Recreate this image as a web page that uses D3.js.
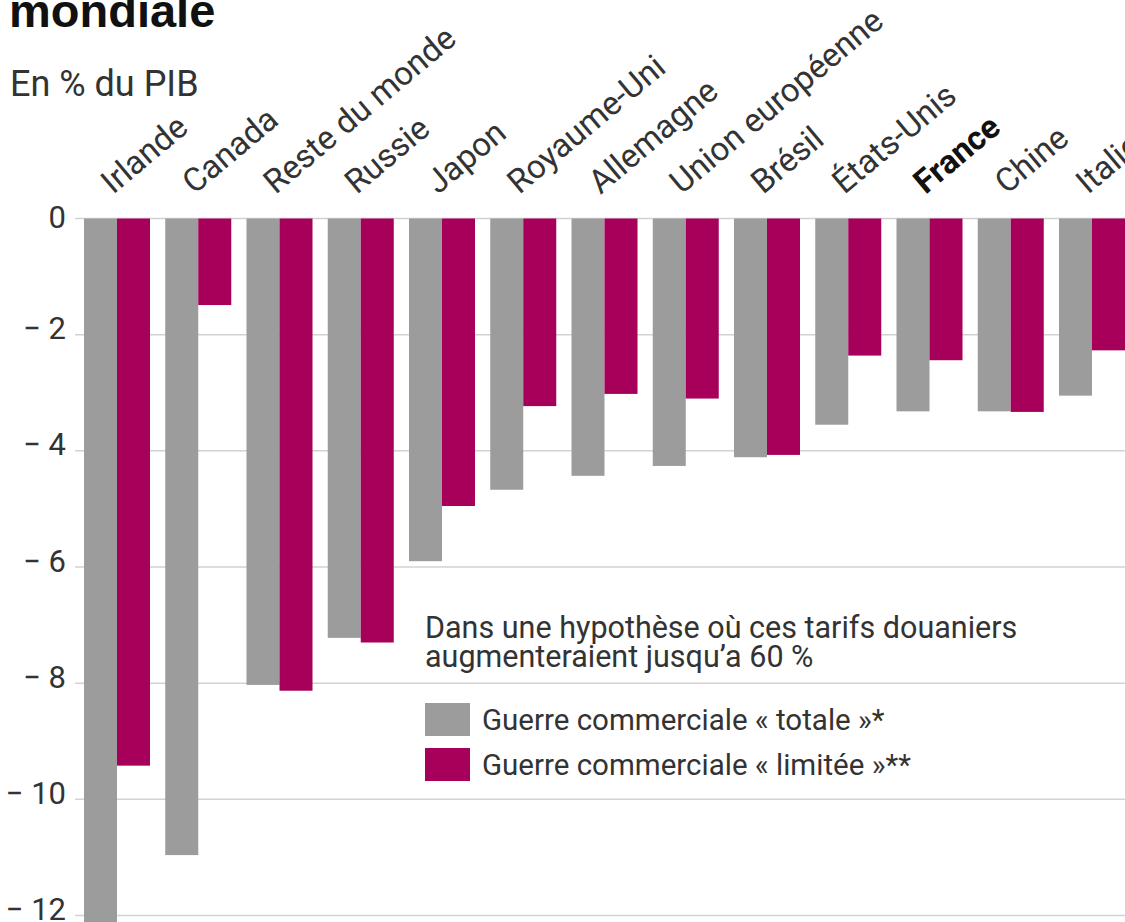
<!DOCTYPE html>
<html>
<head>
<meta charset="utf-8">
<script src="https://cdn.jsdelivr.net/npm/d3@7"></script>
<style>
  html, body { margin: 0; padding: 0; background: #fff; }
  svg { display: block; }
  text { font-family: Roboto, "Liberation Sans", sans-serif; fill: #333; }
</style>
</head>
<body>
<svg id="chart" width="1125" height="922"></svg>
<script>
// ---- Data ----
const categories = ["Irlande", "Canada", "Reste du monde", "Russie", "Japon", "Royaume-Uni",
  "Allemagne", "Union européenne", "Brésil", "États-Unis", "France", "Chine", "Italie"];
const totale  = [-12.3, -10.96, -8.03, -7.22, -5.90, -4.67, -4.43, -4.26, -4.11, -3.55, -3.32, -3.32, -3.05];
const limitee = [-9.42, -1.49, -8.13, -7.30, -4.95, -3.23, -3.02, -3.10, -4.07, -2.36, -2.44, -3.33, -2.27];
const seriesKeys = ["totale", "limitee"];
const seriesLabels = ["Guerre commerciale « totale »*", "Guerre commerciale « limitée »**"];
const yTicks = [0, -2, -4, -6, -8, -10, -12];
const titleText = "mondiale";
const subtitleText = "En % du PIB";
const noteLines = ["Dans une hypothèse où ces tarifs douaniers", "augmenteraient jusqu\u2019a 60 %"];
const highlight = "France";

// ---- Scales ----
const colors = d3.scaleOrdinal().domain(seriesKeys).range(["#9c9c9c", "#a6005b"]);
const svg = d3.select("#chart");
const y = d3.scaleLinear().domain([0, -12]).range([218.5, 915.5]);
const x0 = d3.scaleBand().domain(categories).range([84, 1125]).paddingInner(0.1877).paddingOuter(0);
const x1 = d3.scaleBand().domain(seriesKeys).range([0, x0.bandwidth()]).padding(0);

const rows = categories.map((c, i) => ({cat: c, totale: totale[i], limitee: limitee[i]}));

// ---- Title ----
svg.append("text").attr("x", 9).attr("y", 27)
  .style("font-family", "'Liberation Sans', Arial, sans-serif")
  .style("font-weight", "bold").style("font-size", "47px").style("fill", "#111")
  .text(titleText);
svg.append("text").attr("x", 10).attr("y", 96)
  .style("font-size", "36px").style("fill", "#333")
  .text(subtitleText);

// ---- Grid ----
const fmt = v => v === 0 ? "0" : "\u2212 " + Math.abs(v);
const grid = svg.append("g");
grid.selectAll("line").data(yTicks).join("line")
  .attr("x1", 75).attr("x2", 1125)
  .attr("y1", d => y(d)).attr("y2", d => y(d))
  .attr("stroke", "#d2d2d2").attr("stroke-width", 1.5);

const yAxis = d3.axisLeft(y).tickValues(yTicks).tickFormat(fmt).tickSize(0).tickPadding(0);
const ya = svg.append("g").attr("transform", "translate(66,0)").call(yAxis);
ya.select(".domain").remove();
ya.selectAll("text")
  .attr("dy", d => d === 0 ? "9px" : "4px")
  .attr("dominant-baseline", "auto")
  .style("font-family", "Roboto, sans-serif")
  .style("font-size", "31px").style("fill", "#333");

// ---- Bars ----
const groups = svg.append("g").selectAll("g").data(rows).join("g")
  .attr("transform", d => `translate(${x0(d.cat)},0)`);
groups.selectAll("rect").data(d => seriesKeys.map(k => ({key: k, value: d[k]}))).join("rect")
  .attr("x", d => x1(d.key))
  .attr("width", x1.bandwidth())
  .attr("y", y(0))
  .attr("height", d => y(d.value) - y(0))
  .attr("fill", d => colors(d.key));

// ---- Category labels ----
svg.append("g").selectAll("text").data(categories).join("text")
  .attr("transform", d => `translate(${x0(d) + x0.bandwidth() / 2 - 4},195) rotate(-40)`)
  .attr("text-anchor", "start")
  .style("font-size", "33px")
  .style("font-weight", d => d === highlight ? "bold" : "normal")
  .style("fill", d => d === highlight ? "#111" : "#333")
  .text(d => d);

// ---- Legend ----
const leg = svg.append("g").attr("transform", "translate(425,0)");
leg.selectAll("text.note").data(noteLines).join("text").attr("class", "note")
  .attr("x", 0).attr("y", (d, i) => 638 + i * 29)
  .style("font-size", "30.5px")
  .text(d => d);
const items = leg.selectAll("g.item").data(seriesKeys).join("g").attr("class", "item")
  .attr("transform", (d, i) => `translate(0,${703 + i * 45})`);
items.append("rect").attr("width", 45).attr("height", 33).attr("fill", d => colors(d));
items.append("text").attr("x", 57).attr("y", 27)
  .style("font-size", "29.5px")
  .text((d, i) => seriesLabels[i]);
</script>
</body>
</html>
